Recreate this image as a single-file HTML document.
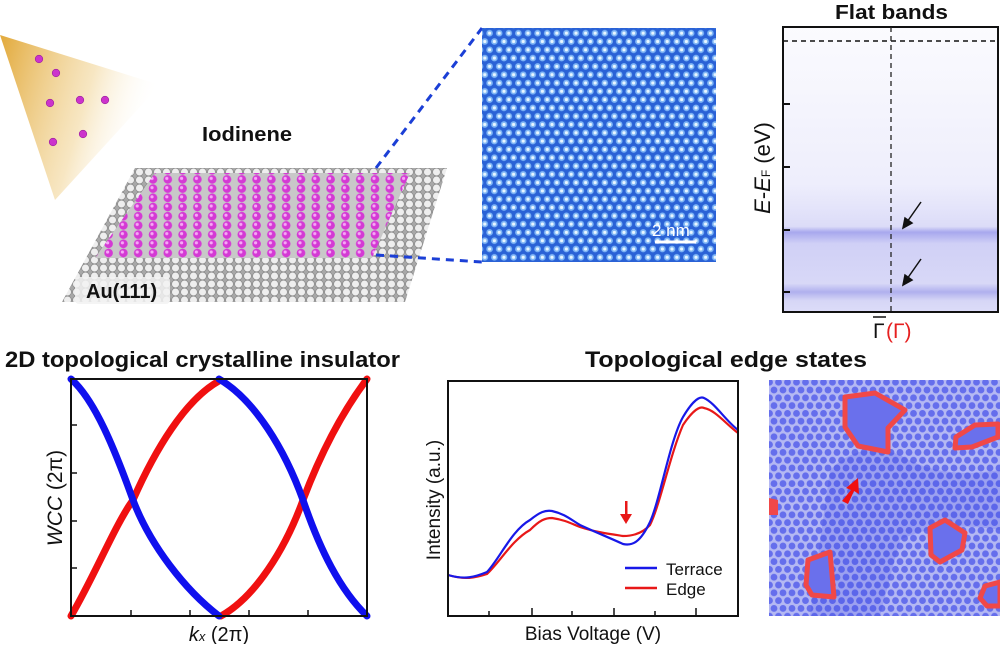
<!DOCTYPE html>
<html><head><meta charset="utf-8"><style>
body{margin:0;background:#fff;width:1000px;height:644px;overflow:hidden}
svg text{font-family:"Liberation Sans",sans-serif}
</style></head><body>
<svg width="1000" height="644" viewBox="0 0 1000 644" xmlns="http://www.w3.org/2000/svg">
<defs>
<linearGradient id="cone" x1="0" y1="0" x2="1" y2="0.3">
<stop offset="0" stop-color="#e2a93a"/><stop offset="0.6" stop-color="#f2d69a" stop-opacity="0.6"/><stop offset="1" stop-color="#fff" stop-opacity="0"/></linearGradient>
<pattern id="au" width="9" height="8" patternUnits="userSpaceOnUse">
<rect width="9" height="8" fill="#a8a8a8"/>
<circle cx="4.5" cy="4" r="3.9" fill="#eeeeee" stroke="#8a8a8a" stroke-width="0.7"/></pattern>
<pattern id="io" width="14.8" height="9.2" patternUnits="userSpaceOnUse">
<rect width="14.8" height="9.2" fill="#c8c8c8"/>
<circle cx="5" cy="4.6" r="4.3" fill="#d43ad4"/><circle cx="4" cy="3.6" r="1.6" fill="#f7a8f7"/></pattern>
<pattern id="stm" width="9.6" height="16.6" patternUnits="userSpaceOnUse">
<rect width="9.6" height="16.6" fill="#2a62d6"/>
<g fill="#7fb6f6"><circle cx="0" cy="0" r="3.3"/><circle cx="9.6" cy="0" r="3.3"/><circle cx="4.8" cy="8.3" r="3.3"/><circle cx="0" cy="16.6" r="3.3"/><circle cx="9.6" cy="16.6" r="3.3"/></g>
<g fill="#e8f6ff"><circle cx="0" cy="0" r="1.6"/><circle cx="9.6" cy="0" r="1.6"/><circle cx="4.8" cy="8.3" r="1.6"/><circle cx="0" cy="16.6" r="1.6"/><circle cx="9.6" cy="16.6" r="1.6"/></g></pattern>
<pattern id="stm2" width="9" height="15.6" patternUnits="userSpaceOnUse">
<rect width="9" height="15.6" fill="#c9cdf6"/>
<circle cx="0" cy="0" r="3.4" fill="#6d76ee"/><circle cx="9" cy="0" r="3.4" fill="#6d76ee"/>
<circle cx="4.5" cy="7.8" r="3.4" fill="#6d76ee"/><circle cx="0" cy="15.6" r="3.4" fill="#6d76ee"/><circle cx="9" cy="15.6" r="3.4" fill="#6d76ee"/></pattern>
<linearGradient id="arpes" x1="0" y1="0" x2="0" y2="1">
<stop offset="0" stop-color="#fbfbfe"/><stop offset="0.55" stop-color="#eeeefc"/><stop offset="0.7" stop-color="#dcdcf8"/><stop offset="0.72" stop-color="#a8a8ee"/><stop offset="0.76" stop-color="#d0d0f6"/><stop offset="0.9" stop-color="#d8d8f7"/><stop offset="0.93" stop-color="#b0b0ee"/><stop offset="0.96" stop-color="#d6d6f6"/><stop offset="1" stop-color="#dcdcf8"/></linearGradient>
</defs>

<polygon points="0,35 160,85 55,200" fill="url(#cone)"/>
<g fill="#cc33cc" stroke="#9a1f9a" stroke-width="0.6">
<circle cx="39" cy="59" r="3.8"/><circle cx="56" cy="73" r="3.8"/><circle cx="50" cy="103" r="3.8"/><circle cx="80" cy="100" r="3.8"/><circle cx="105" cy="100" r="3.8"/><circle cx="53" cy="142" r="3.8"/><circle cx="83" cy="134" r="3.8"/></g>
<text x="202" y="141" font-size="20" font-weight="bold" fill="#111" textLength="90" lengthAdjust="spacingAndGlyphs">Iodinene</text>
<polygon points="135,168 447,168 405,302 62,302" fill="url(#au)"/>
<polygon points="155,173 410,173 372,258 95,258" fill="url(#io)"/>
<rect x="75" y="277" width="95" height="27" rx="4" fill="#f2f2f2" opacity="0.85"/>
<text x="86" y="298" font-size="20" font-weight="bold" fill="#111">Au(111)</text>
<line x1="376" y1="168" x2="482" y2="28" stroke="#1b3fd6" stroke-width="3" stroke-dasharray="8,6"/>
<line x1="376" y1="255" x2="482" y2="262" stroke="#1b3fd6" stroke-width="3" stroke-dasharray="8,6"/>

<rect x="482" y="28" width="234" height="234" fill="url(#stm)"/>
<line x1="655" y1="242" x2="696" y2="242" stroke="#fff" stroke-width="3"/>
<text x="652" y="236" font-size="17" fill="#fff">2 nm</text>

<text x="835" y="19" font-size="20" font-weight="bold" fill="#111" textLength="113" lengthAdjust="spacingAndGlyphs">Flat bands</text>
<rect x="783" y="27" width="215" height="285" fill="url(#arpes)"/>
<rect x="783" y="27" width="215" height="285" fill="none" stroke="#111" stroke-width="2"/>
<line x1="783" y1="41" x2="998" y2="41" stroke="#111" stroke-width="1.5" stroke-dasharray="5,4"/>
<line x1="891" y1="27" x2="891" y2="312" stroke="#222" stroke-width="1.3" stroke-dasharray="5,4"/>
<g stroke="#111" stroke-width="2"><line x1="783" y1="104" x2="790" y2="104"/><line x1="783" y1="167" x2="790" y2="167"/><line x1="783" y1="230" x2="790" y2="230"/><line x1="783" y1="292" x2="790" y2="292"/></g>
<g stroke="#111" stroke-width="1.5" fill="#111"><line x1="921" y1="202" x2="907" y2="222"/><polygon points="903,228 905,218 912,223"/><line x1="921" y1="259" x2="907" y2="279"/><polygon points="903,285 905,275 912,280"/></g>
<text transform="translate(770,168) rotate(-90)" font-size="22" text-anchor="middle" fill="#111"><tspan font-style="italic">E</tspan>-<tspan font-style="italic">E</tspan><tspan font-size="12">F</tspan> (eV)</text>
<text x="873" y="338" font-size="21" fill="#111">Γ</text><line x1="873" y1="317" x2="886" y2="317" stroke="#111" stroke-width="1.5"/>
<text x="886" y="338" font-size="21" fill="#e62020">(Γ)</text>

<text x="5" y="367" font-size="22" font-weight="bold" fill="#111" textLength="395" lengthAdjust="spacingAndGlyphs">2D topological crystalline insulator</text>
<g fill="none" stroke-linecap="round" stroke-width="7">
<path d="M71,616 C95,575 115,525 133,500 C155,450 185,400 219,381" stroke="#f01010"/>
<path d="M221,616 C255,597 285,550 303,500 C320,455 340,415 367,379" stroke="#f01010"/>
<path d="M71,379 C95,400 115,450 133,500 C150,545 185,590 219,616" stroke="#1010ee"/>
<path d="M219,379 C255,400 285,450 303,500 C320,550 340,590 367,616" stroke="#1010ee"/>
</g>
<rect x="71" y="379" width="296" height="237" fill="none" stroke="#111" stroke-width="2"/>
<g stroke="#111" stroke-width="1.5"><line x1="131" y1="616" x2="131" y2="610"/><line x1="190" y1="616" x2="190" y2="610"/><line x1="249" y1="616" x2="249" y2="610"/><line x1="308" y1="616" x2="308" y2="610"/>
<line x1="71" y1="425" x2="77" y2="425"/><line x1="71" y1="473" x2="77" y2="473"/><line x1="71" y1="521" x2="77" y2="521"/><line x1="71" y1="568" x2="77" y2="568"/></g>
<text transform="translate(62,498) rotate(-90)" font-size="21" text-anchor="middle" fill="#111"><tspan font-style="italic">WCC</tspan> (2π)</text>
<text x="219" y="641" font-size="20" text-anchor="middle" fill="#111"><tspan font-style="italic">k</tspan><tspan font-style="italic" font-size="13">x</tspan> (2π)</text>

<text x="585" y="367" font-size="22" font-weight="bold" fill="#111" textLength="282" lengthAdjust="spacingAndGlyphs">Topological edge states</text>
<g fill="none" stroke-width="2.2">
<path d="M448,575 C465,580 475,578 487,574 C500,562 512,540 530,530 C540,520 545,518 552,518 C565,520 570,523 580,527 C595,532 610,534 623,536 C632,536 642,534 650,525 C660,505 670,455 683,425 C693,410 700,406 704,408 C715,410 725,423 738,433" stroke="#e81818"/>
<path d="M448,575 C465,580 475,577 487,572 C500,558 512,530 530,520 C540,512 545,510 552,511 C565,514 570,519 580,525 C595,532 610,538 623,544 C632,546 640,543 650,522 C660,500 670,440 683,417 C693,400 700,396 704,398 C715,403 725,420 738,430" stroke="#1818e8"/>
</g>
<g fill="#e81818"><rect x="625" y="501" width="2.5" height="14"/><polygon points="620,514 632,514 626,524"/></g>
<rect x="448" y="381" width="290" height="235" fill="none" stroke="#111" stroke-width="2"/>
<g stroke="#111" stroke-width="1.5"><line x1="489" y1="616" x2="489" y2="611"/><line x1="532" y1="616" x2="532" y2="608"/><line x1="572" y1="616" x2="572" y2="611"/><line x1="614" y1="616" x2="614" y2="608"/><line x1="655" y1="616" x2="655" y2="611"/><line x1="696" y1="616" x2="696" y2="608"/></g>
<line x1="625" y1="568" x2="657" y2="568" stroke="#1818e8" stroke-width="2.5"/>
<line x1="625" y1="588" x2="657" y2="588" stroke="#e81818" stroke-width="2.5"/>
<text x="666" y="575" font-size="17" fill="#111">Terrace</text>
<text x="666" y="595" font-size="17" fill="#111">Edge</text>
<text transform="translate(440,500) rotate(-90)" font-size="19" text-anchor="middle" fill="#111">Intensity (a.u.)</text>
<text x="593" y="640" font-size="19" text-anchor="middle" fill="#111">Bias Voltage (V)</text>

<rect x="769" y="380" width="231" height="236" fill="url(#stm2)"/>
<rect x="769" y="380" width="231" height="236" fill="#3a46e6" opacity="0.15"/>
<path d="M830,470 Q860,440 900,455 Q940,480 1000,470 L1000,530 Q940,520 900,540 L880,616 L810,616 Q820,540 830,470Z" fill="#3a46e6" opacity="0.2"/>
<g fill="#6a70ec" stroke="#f04848" stroke-width="5" stroke-linejoin="round">
<polygon points="845,397 875,393 905,410 888,428 888,452 858,446 845,427"/>
<polygon points="956,437 975,425 998,424 998,437 972,447 955,448"/>
<polygon points="930,528 945,520 965,533 962,550 940,562 931,555"/>
<polygon points="808,560 830,552 834,597 812,595 806,585"/>
<polygon points="985,586 1000,582 1000,606 987,606 980,598"/>
</g>
<polygon points="769,498 778,500 778,515 769,515" fill="#f04848"/>
<g fill="#f01010"><polygon points="842,501 848,504 854,491 859,494 858,478 846,488 851,490"/></g>
</svg>
</body></html>
